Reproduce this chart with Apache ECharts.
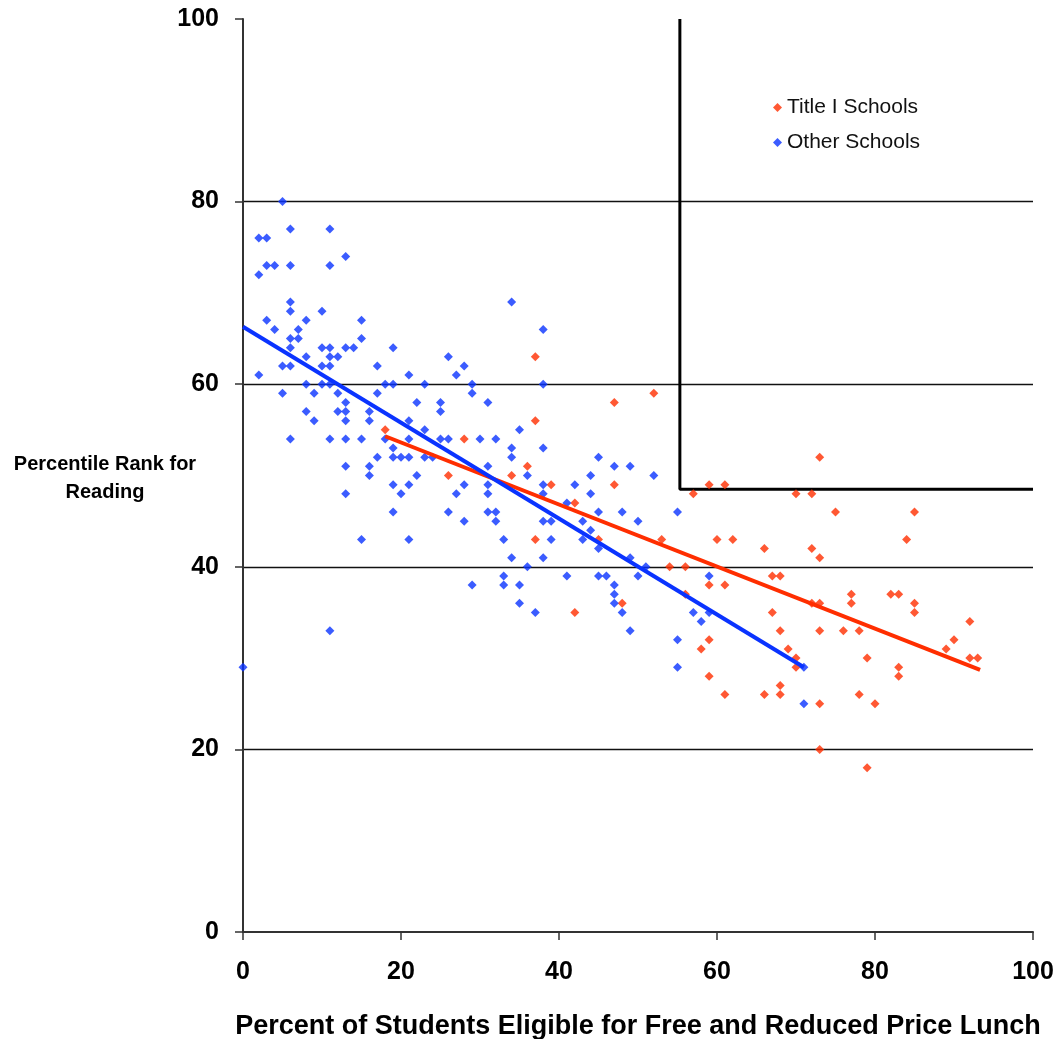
<!DOCTYPE html>
<html>
<head>
<meta charset="utf-8">
<script src="https://cdn.jsdelivr.net/npm/echarts@6/dist/echarts.min.js"></script>
<style>
html,body{margin:0;padding:0;background:#fff;overflow:hidden;}
#chart{width:1061px;height:1039px;}
</style>
</head>
<body>
<div id="chart"></div>
<script>
// ---- data ----
const seriesNames = ["Title I Schools", "Other Schools"];
const titleISchools = [
[18,55],[37,63],[47,58],[37,56],[28,54],[36,51],[26,50],[34,50],[39,49],[47,49],[42,47],[37,43],[45,43],[48,36],[42,35],
[52,59],[59,49],[61,49],[57,48],[70,48],[72,48],[73,52],[53,43],[60,43],[62,43],[66,42],[72,42],[54,40],[56,40],[67,39],[68,39],
[73,41],[59,38],[61,38],[56,37],[67,35],[68,33],[59,32],[58,31],[69,31],[70,30],[70,29],[59,28],[68,27],[61,26],[66,26],[68,26],
[73,25],[73,20],[75,46],[85,46],[84,43],[77,37],[77,36],[82,37],[83,37],[85,36],[85,35],[72,36],[73,36],[92,34],[73,33],[76,33],
[78,33],[90,32],[89,31],[79,30],[92,30],[93,30],[83,29],[83,28],[78,26],[80,25],[79,18]
];
const otherSchools = [
[5,80],[6,77],[11,77],[2,76],[3,76],[13,74],[3,73],[4,73],[6,73],[11,73],[2,72],[6,69],[6,68],[10,68],[3,67],[8,67],[15,67],
[4,66],[7,66],[6,65],[7,65],[15,65],[6,64],[10,64],[11,64],[13,64],[14,64],[19,64],[8,63],[11,63],[12,63],[5,62],[6,62],[10,62],
[11,62],[17,62],[2,61],[21,61],[8,60],[10,60],[11,60],[18,60],[19,60],[23,60],[5,59],[9,59],[12,59],[17,59],
[22,58],[13,58],[8,57],[12,57],[13,57],[16,57],[9,56],[13,56],[16,56],[21,56],[23,55],[6,54],[11,54],[13,54],[15,54],[18,54],
[21,54],[19,53],[17,52],[19,52],[20,52],[21,52],[23,52],[24,52],[13,51],[16,51],[16,50],[22,50],[19,49],[21,49],[20,48],[13,48],
[19,46],[15,43],[21,43],[11,33],[0,29],
[34,69],[38,66],[26,63],[27,61],[28,62],[29,60],[29,59],[38,60],[25,58],[25,57],[31,58],[35,55],[25,54],[26,54],[30,54],[32,54],
[34,53],[34,52],[38,53],[45,52],[31,51],[47,51],[36,50],[44,50],[28,49],[31,49],[38,49],[42,49],[27,48],[31,48],[38,48],[44,48],
[26,46],[31,46],[32,46],[45,46],[48,46],[41,47],
[28,45],[32,45],[38,45],[39,45],[43,45],[44,44],[33,43],[39,43],[43,43],[45,42],[34,41],[38,41],[36,40],[33,39],[33,38],[29,38],
[35,38],[41,39],[45,39],[46,39],[47,38],[47,37],[35,36],[47,36],[37,35],[48,35],[49,33],
[49,51],[52,50],[55,46],[50,45],[59,39],[49,41],[51,40],[50,39],
[57,35],[58,34],[59,35],[55,32],[55,29],[71,29],[71,25]
];
// trend lines (end points)
const titleITrend = [[18,54.3],[93.3,28.7]];
const otherTrend = [[0,66.3],[71,29]];
// reference boundary line
const boundaryLine = [[55.3,100],[55.3,48.5],[100,48.5]];
const xTicks = [0,20,40,60,80,100];
const yTicks = [0,20,40,60,80,100];
const xTitle = "Percent of Students Eligible for Free and Reduced Price Lunch";
const yTitle = "Percentile Rank for\nReading";

const RED = "#FF2E00", BLUE = "#0A33FF";
const chart = echarts.init(document.getElementById('chart'), null, {renderer:'canvas'});
const font = "Liberation Sans, Arial, sans-serif";
chart.setOption({
  animation:false,
  backgroundColor:'#fff',
  grid:{left:243, right:28, top:19, bottom:107, containLabel:false, outerBoundsMode:'none'},
  legend:{
    data:seriesNames, orient:'vertical', left:768, top:92, itemGap:14,
    icon:'diamond', itemWidth:9, itemHeight:9,
    textStyle:{fontFamily:font, fontSize:21, color:'#111'}
  },
  graphic:[{
    type:'text', x:105, y:450,
    style:{text:yTitle, textAlign:'center', font:'bold 20px Liberation Sans, Arial, sans-serif', fill:'#000', lineHeight:28}
  }],
  xAxis:{
    type:'value', min:xTicks[0], max:xTicks[xTicks.length-1], interval:20,
    name:xTitle, nameLocation:'middle', nameGap:81,
    nameTextStyle:{fontFamily:font, fontWeight:'bold', fontSize:27, color:'#000'},
    axisLine:{show:true, onZero:false, lineStyle:{color:'#333', width:2}},
    axisTick:{show:true, inside:false, length:8, lineStyle:{color:'#333', width:1.5}},
    axisLabel:{margin:28, fontFamily:font, fontWeight:'bold', fontSize:25, color:'#000'},
    splitLine:{show:false}
  },
  yAxis:{
    type:'value', min:yTicks[0], max:yTicks[yTicks.length-1], interval:20,
    axisLine:{show:true, onZero:false, lineStyle:{color:'#333', width:2}},
    axisTick:{show:true, inside:false, length:8, lineStyle:{color:'#333', width:1.5}},
    axisLabel:{margin:24, fontFamily:font, fontWeight:'bold', fontSize:25, color:'#000'},
    splitLine:{show:true, lineStyle:{color:['rgba(0,0,0,0)','#111','#111','#111','#111','rgba(0,0,0,0)'], width:1.3}}
  },
  series:[
    {name:seriesNames[0], type:'scatter', data:titleISchools, symbol:'diamond', symbolSize:9,
     itemStyle:{color:RED}, z:3},
    {name:seriesNames[1], type:'scatter', data:otherSchools, symbol:'diamond', symbolSize:9,
     itemStyle:{color:BLUE}, z:3},
    {name:'Title I trend', type:'line', data:titleITrend, symbol:'none', lineStyle:{color:RED, width:4}, z:4},
    {name:'Other trend', type:'line', data:otherTrend, symbol:'none', lineStyle:{color:BLUE, width:4}, z:4},
    {name:'boundary', type:'line', data:boundaryLine, symbol:'none', lineStyle:{color:'#000', width:3}, z:2}
  ]
});
</script>
</body>
</html>
